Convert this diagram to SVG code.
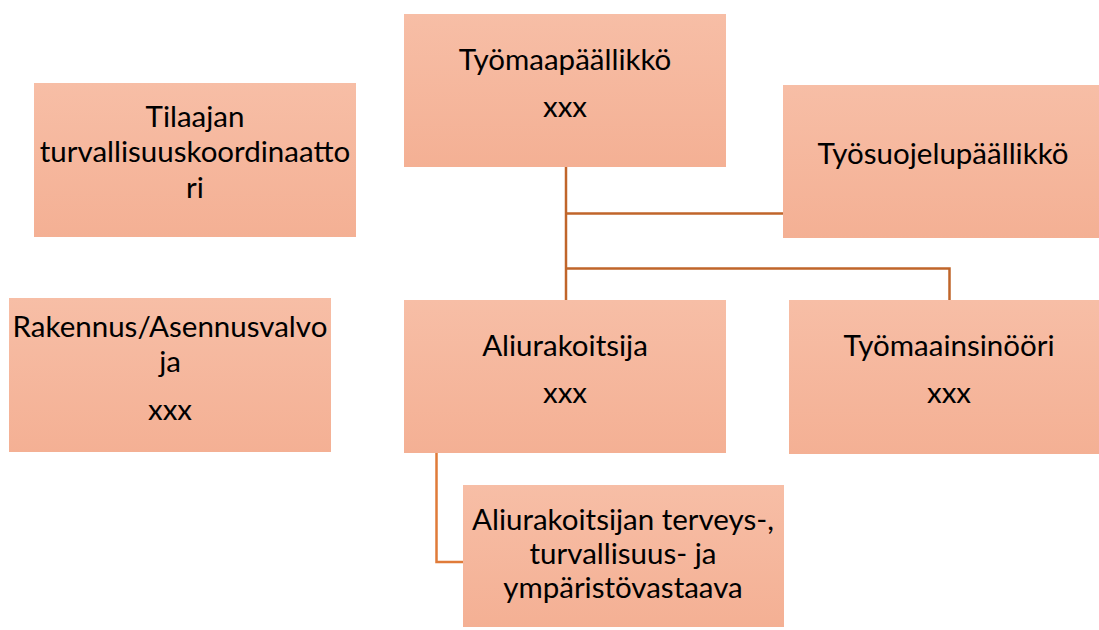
<svg xmlns="http://www.w3.org/2000/svg" width="1099" height="630" viewBox="0 0 1099 630">
<defs>
<linearGradient id="g" x1="0" y1="0" x2="0" y2="1">
<stop offset="0" stop-color="#F7BEA6"/>
<stop offset="1" stop-color="#F4B094"/>
</linearGradient>
</defs>
<style>
.box{fill:url(#g);}
.t{font-family:Lato,"Open Sans","Liberation Sans",sans-serif;font-size:29.5px;fill:#000;text-anchor:middle;}
.c{fill:none;stroke:#C0652A;stroke-width:2.5;}
.c2{fill:none;stroke:#E07B39;stroke-width:2.5;}
</style>
<rect width="1099" height="630" fill="#fff"/>
<g id="connectors">
<path class="c" d="M566 167V300"/>
<path class="c" d="M566 213.5H783"/>
<path class="c" d="M566 268.5H949.5V300"/>
<path class="c2" d="M436.5 453V562H463"/>
</g>
<g id="tyomaapaallikko">
<rect class="box" x="404" y="14" width="322" height="153"/>
<text class="t" x="565" y="70">Työmaapäällikkö</text>
<text class="t" x="565" y="117">xxx</text>
</g>
<g id="tilaajan">
<rect class="box" x="34" y="83" width="322" height="154"/>
<text class="t" x="195" y="127">Tilaajan</text>
<text class="t" x="195" y="162">turvallisuuskoordinaatto</text>
<text class="t" x="195" y="198">ri</text>
</g>
<g id="tyosuojelupaallikko">
<rect class="box" x="783" y="85" width="316" height="153"/>
<text class="t" x="943" y="164">Työsuojelupäällikkö</text>
</g>
<g id="rakennusvalvoja">
<rect class="box" x="9" y="298" width="322" height="154"/>
<text class="t" x="170" y="337">Rakennus/Asennusvalvo</text>
<text class="t" x="170" y="372">ja</text>
<text class="t" x="170" y="420">xxx</text>
</g>
<g id="aliurakoitsija">
<rect class="box" x="404" y="300" width="322" height="153"/>
<text class="t" x="565" y="356">Aliurakoitsija</text>
<text class="t" x="565" y="403">xxx</text>
</g>
<g id="tyomaainsinoori">
<rect class="box" x="789" y="300" width="310" height="154"/>
<text class="t" x="949" y="356">Työmaainsinööri</text>
<text class="t" x="949" y="403">xxx</text>
</g>
<g id="aliurakoitsijan-tty">
<rect class="box" x="463" y="485" width="321" height="142"/>
<text class="t" x="623" y="530">Aliurakoitsijan terveys-,</text>
<text class="t" x="623" y="564">turvallisuus- ja</text>
<text class="t" x="623" y="598">ympäristövastaava</text>
</g>
</svg>
